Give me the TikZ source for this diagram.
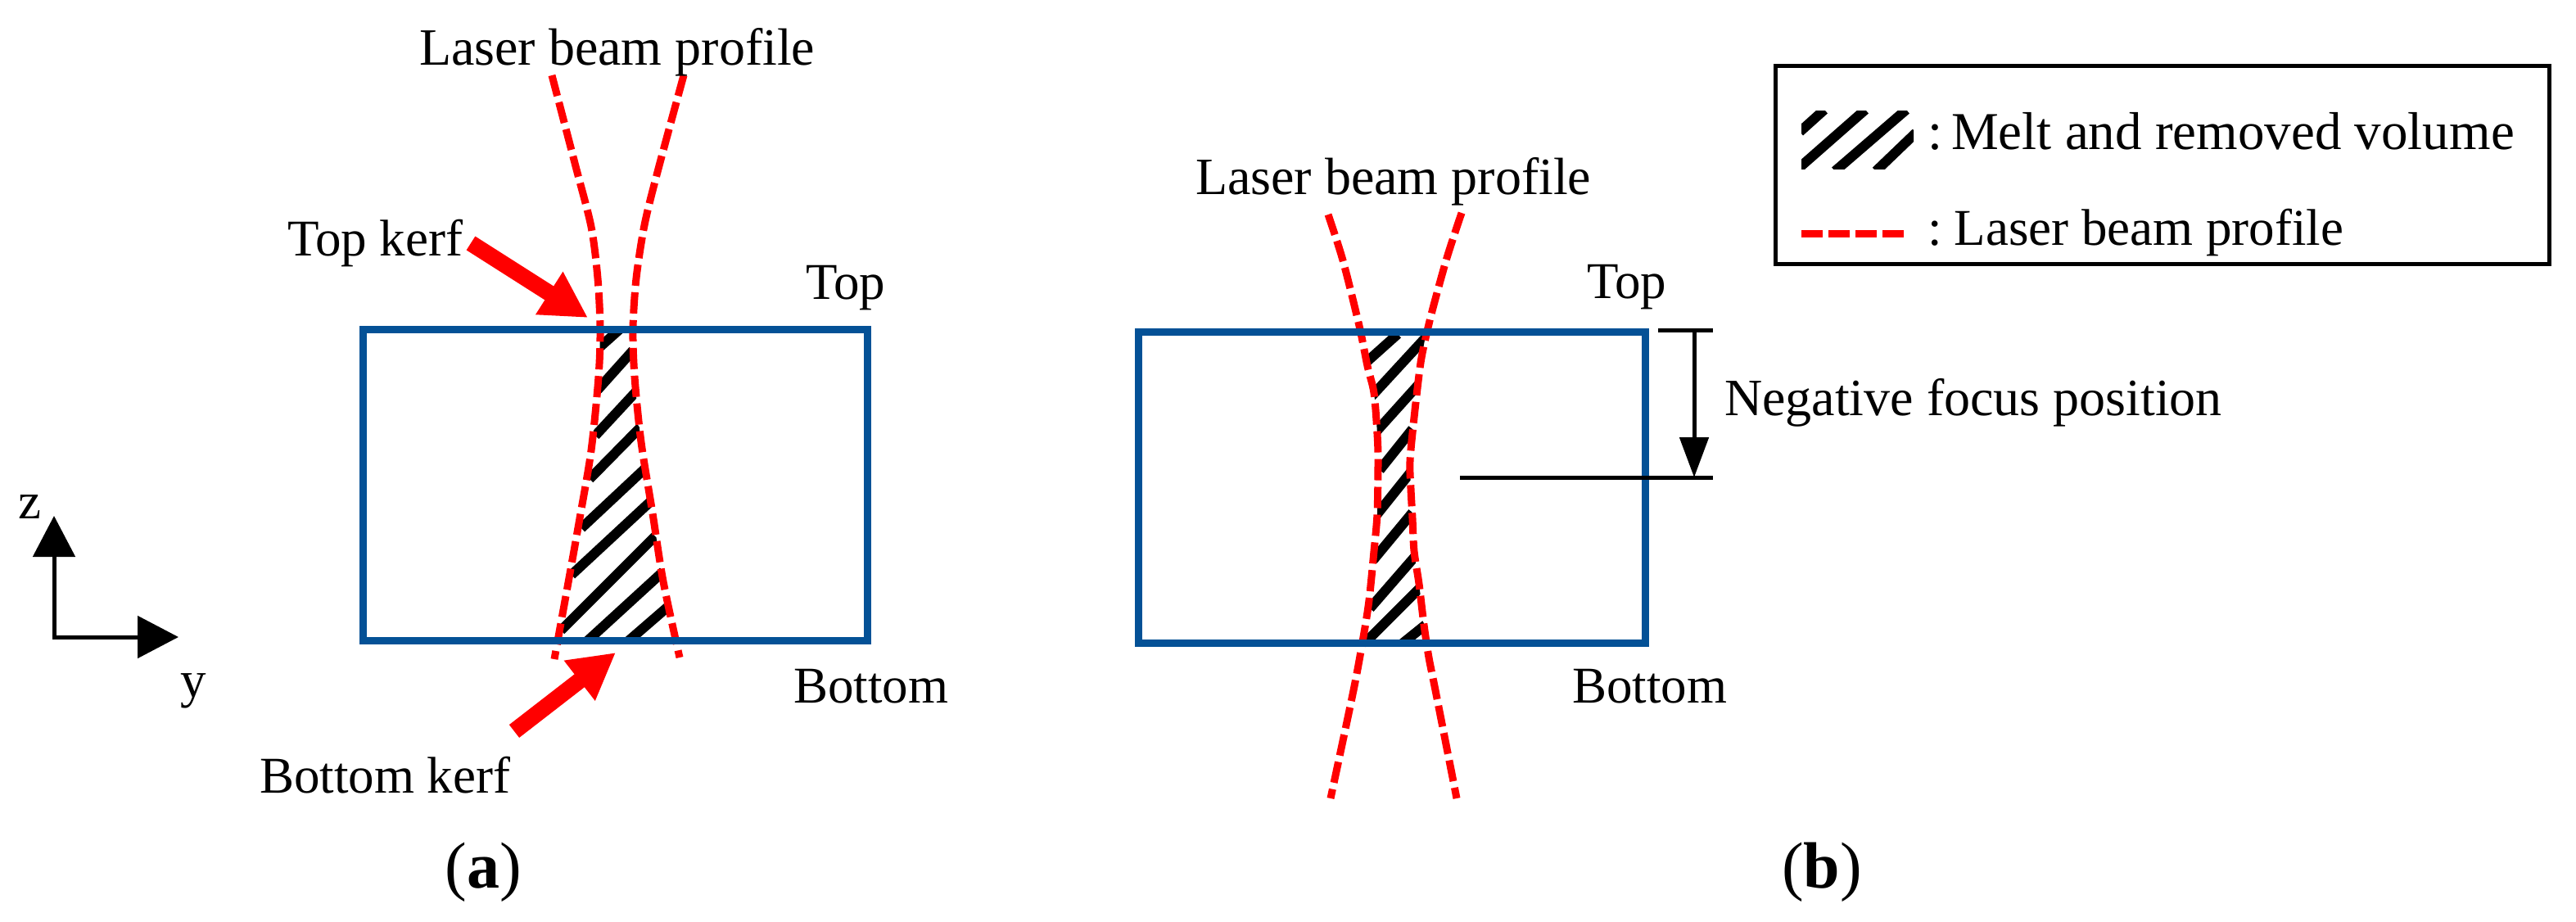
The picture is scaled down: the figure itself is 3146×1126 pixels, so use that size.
\documentclass[tikz,border=0pt]{standalone}
\usepackage{fontspec}
\setmainfont{Liberation Serif}
\usetikzlibrary{arrows.meta}
\definecolor{boxblue}{HTML}{045196}
\tikzset{
  lbl/.style={anchor=base west,inner sep=0pt,outer sep=0pt,font=\fontsize{63}{70}\selectfont},
  lblb/.style={anchor=base west,inner sep=0pt,outer sep=0pt,font=\fontsize{64}{70}\selectfont},
  lblc/.style={anchor=base west,inner sep=0pt,outer sep=0pt,font=\fontsize{65}{70}\selectfont},
  captionlbl/.style={anchor=base,inner sep=0pt,outer sep=0pt,font=\fontsize{80}{88}\selectfont},
  beam/.style={draw=red,line width=9pt,dash pattern=on 26pt off 8pt},
  stripe/.style={draw=black,line width=12pt},
  plate/.style={draw=boxblue,line width=9pt,outer sep=0pt,inner sep=0pt,anchor=north west},
  blk/.style={draw=black,line width=5pt},
  axisarrow/.style={blk,-{Triangle[length=50pt,width=51pt]}},
  dimarrow/.style={blk,-{Triangle[length=49pt,width=35pt]}},
  kerfarrow/.style={draw=red,line width=20pt,-{Triangle[length=56pt,width=58pt]}},
}
\begin{document}
\begin{tikzpicture}[x=1pt,y=-1pt]
\useasboundingbox (0,0) rectangle (3146,1126);
\fill[white] (0,0) rectangle (3146,1126);
% ---------- (a) hatch
\begin{scope}
\clip plot[smooth] coordinates {(733,402)(731,460)(722,550)(708,633)(693,717)(682,778)}
  -- plot[smooth] coordinates {(824,778)(810,710)(797,627)(783,540)(775,460)(773,402)} -- cycle;
\draw[stripe] (729,427)--(757,402);
\draw[stripe] (730,476)--(773,428);
\draw[stripe] (727,532)--(778,477);
\draw[stripe] (720,585)--(782,522);
\draw[stripe] (710,645)--(788,572);
\draw[stripe] (698,702)--(795,612);
\draw[stripe] (685,770)--(800,655);
\draw[stripe] (716,784)--(810,698);
\draw[stripe] (766,784)--(818,739);
\end{scope}
% ---------- (a) beam
\draw[beam] plot[smooth] coordinates {(674,92)(703,203)(722,277)(730,340)(733,402)(731,460)(722,550)(708,633)(693,717)(677,805)};
\draw[beam] plot[smooth] coordinates {(835,92)(803,210)(787,275)(777,340)(773,402)(775,460)(783,540)(797,627)(810,710)(830,803)};
% ---------- (a) plate
\node[plate,minimum width=616pt,minimum height=380pt] (plateA) at (443,402) {};
\coordinate (topkerfS) at (575,297);
\coordinate (topkerfE) at (718,388);
\draw[kerfarrow] (topkerfS) -- (topkerfE);
\coordinate (botkerfS) at (628,893);
\coordinate (botkerfE) at (752,797);
\draw[kerfarrow] (botkerfS) -- (botkerfE);
\node[lblb] (laserA) at (512,80) {Laser beam profile};
\node[lbl] (topkerf) at (351,312) {Top kerf};
\node[lbl] (topA) at (984,365) {Top};
\node[lbl] (bottomA) at (969,858) {Bottom};
\node[lbl] (botkerf) at (317,968) {Bottom kerf};
% ---------- axes
\coordinate (orig) at (66,778);
\coordinate (ztip) at (66,630);
\coordinate (ytip) at (218,778);
\draw[axisarrow] ([yshift=2.5pt]orig) -- (ztip);
\draw[axisarrow] ([xshift=-2.5pt]orig) -- (ytip);
\node[lbl] (zlab) at (23,633) {z};
\node[lbl] (ylab) at (220,851) {y};
% ---------- (b) hatch
\begin{scope}
\clip plot[smooth] coordinates {(1660,400)(1670,447)(1678,480)(1682,530)(1683,563)(1682,627)(1678,673)(1672,733)(1665,782)}
  -- plot[smooth] coordinates {(1742,782)(1739,763)(1733,713)(1727,673)(1725,633)(1723,597)(1722,563)(1724,543)(1727,510)(1734,450)(1741,410)} -- cycle;
\draw[stripe] (1669,442)--(1707,408);
\draw[stripe] (1675,484)--(1745,408);
\draw[stripe] (1679,529)--(1733,469);
\draw[stripe] (1685,574)--(1725,524);
\draw[stripe] (1681,629)--(1725,574);
\draw[stripe] (1677,684)--(1725,626);
\draw[stripe] (1673,743)--(1733,674);
\draw[stripe] (1664,788)--(1735,717);
\draw[stripe] (1710,788)--(1741,763);
\end{scope}
% ---------- (b) beam
\draw[beam] plot[smooth] coordinates {(1622,262)(1640,318)(1660,398)(1670,447)(1678,480)(1682,530)(1683,563)(1682,627)(1678,673)(1672,733)(1665,778)(1653,843)(1625,975)};
\draw[beam] plot[smooth] coordinates {(1785,260)(1767,315)(1749,380)(1739,422)(1734,450)(1727,510)(1722,563)(1723,597)(1725,633)(1727,673)(1733,713)(1739,763)(1745,803)(1753,843)(1779,975)};
% ---------- (b) plate
\node[plate,minimum width=619pt,minimum height=380pt] (plateB) at (1390,405.5) {};
\node[lblb] (laserB) at (1460,238) {Laser beam profile};
\node[lbl] (topB) at (1938,364) {Top};
\node[lbl] (bottomB) at (1920,858) {Bottom};
\node[lblb] (negfocus) at (2106,507) {Negative focus position};
\coordinate (dimT1) at (2025,403);
\coordinate (dimT2) at (2092,403);
\coordinate (dimB1) at (1783,583);
\coordinate (dimB2) at (2092,583);
\coordinate (dimS) at (2069,403);
\coordinate (dimE) at (2069,583);
\draw[blk] (dimT1) -- (dimT2);
\draw[blk] (dimB1) -- (dimB2);
\draw[dimarrow] (dimS) -- (dimE);
% ---------- legend
\node[draw=black,line width=5pt,outer sep=0pt,minimum width=945pt,minimum height=241pt,inner sep=0pt,anchor=north west] (legend) at (2168,81) {};
\begin{scope}
\clip (2200,136) rectangle (2337,207);
\draw[stripe] (2198,161)--(2228,134);
\draw[stripe] (2196,206)--(2278,134);
\draw[stripe] (2241,209)--(2328,134);
\draw[stripe] (2291,209)--(2340,162);
\end{scope}
\node[lblc] (legA) at (2354,183) {:\kern11pt Melt and removed volume};
\coordinate (legS) at (2200,285.5);
\coordinate (legE) at (2327,285.5);
\draw[draw=red,line width=9pt,dash pattern=on 26pt off 7pt] (legS) -- (legE);
\node[lbl] (legB) at (2354,299) {:\kern15pt Laser beam profile};
% ---------- captions
\node[captionlbl] (capA) at (590,1084) {(\textbf{a})};
\node[captionlbl] (capB) at (2225,1084) {(\textbf{b})};
\end{tikzpicture}
\end{document}
